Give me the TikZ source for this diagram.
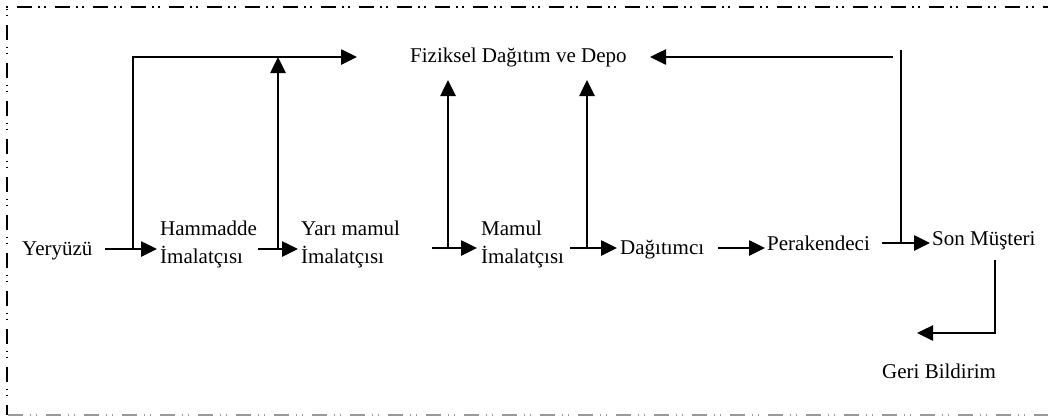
\documentclass[tikz,border=0pt]{standalone}
\usepackage{fontspec}
\setmainfont{Liberation Serif}
\usetikzlibrary{arrows.meta}
\begin{document}
\begin{tikzpicture}[x=1pt,y=-1pt,
  lbl/.style={inner sep=0pt, font=\fontsize{21}{28}\selectfont, align=left},
  flow/.style={line width=2.6pt, -{Triangle[length=16pt,width=15pt]}},
  link/.style={line width=2.6pt},
  frame/.style={line width=1.5pt, dash pattern=on 15pt off 6.5pt on 1.5pt off 4.5pt on 1.5pt off 9pt}]
\useasboundingbox (0,0) rectangle (1048,416);

% frame
\draw[frame, dash phase=27.5pt] (6,7) -- (1048,7);
\draw[frame, dash phase=20pt] (7,7) -- (7,415);
\draw[frame, draw=black!40, dash phase=37pt] (7,415) -- (1048,415);

% labels
\node[lbl, anchor=base west] (yer)  at (22,255)  {Yeryüzü};
\node[lbl, anchor=west]      (ham)  at (160,244) {Hammadde\\İmalatçısı};
\node[lbl, anchor=west]      (yari) at (301,244) {Yarı mamul\\İmalatçısı};
\node[lbl, anchor=west]      (mam)  at (481,244) {Mamul\\İmalatçısı};
\node[lbl, anchor=base west] (dag)  at (620,254) {Dağıtımcı};
\node[lbl, anchor=base west] (per)  at (767,250) {Perakendeci};
\node[lbl, anchor=base west] (son)  at (932,245) {Son Müşteri};
\node[lbl, anchor=base west] (fiz)  at (410,62)  {Fiziksel Dağıtım ve Depo};
\node[lbl, anchor=base west] (geri) at (882,378) {Geri Bildirim};

% branch points and free ends
\coordinate (s1) at (105,249); \coordinate (b1) at (133,249);
\coordinate (t1) at (133,57);  \coordinate (fizL) at (357,57);
\coordinate (s2) at (258,249); \coordinate (b2) at (278,249); \coordinate (t2) at (278,57);
\coordinate (s3) at (432,248); \coordinate (b3) at (448,248); \coordinate (t3) at (448,80);
\coordinate (s4) at (570,248); \coordinate (b4) at (587,248); \coordinate (t4) at (587,80);
\coordinate (s5) at (718,248);
\coordinate (s6) at (882,243); \coordinate (b6) at (901,243); \coordinate (t6) at (901,50);
\coordinate (r6) at (893,57);  \coordinate (fizR) at (650,57);
\coordinate (g1) at (995,260); \coordinate (g2) at (995,333); \coordinate (g3) at (917,333);

% supply chain flow
\draw[flow, shorten >=3pt] (s1) -- (s1 -| ham.west);
\draw[flow, shorten >=3pt] (s2) -- (s2 -| yari.west);
\draw[flow, shorten >=4pt] (s3) -- (s3 -| mam.west);
\draw[flow, shorten >=3pt] (s4) -- (s4 -| dag.west);
\draw[flow, shorten >=2pt] (s5) -- (s5 -| per.west);
\draw[flow, shorten >=2pt] (s6) -- (s6 -| son.west);

% links to physical distribution
\draw[flow] (b1) -- (t1) -- (fizL);
\draw[flow] (b2) -- (t2);
\draw[flow] (b3) -- (t3);
\draw[flow] (b4) -- (t4);
\draw[link] (b6) -- (t6);
\draw[flow] (r6) -- (fizR);

% feedback
\draw[flow] (g1) -- (g2) -- (g3);
\end{tikzpicture}
\end{document}
